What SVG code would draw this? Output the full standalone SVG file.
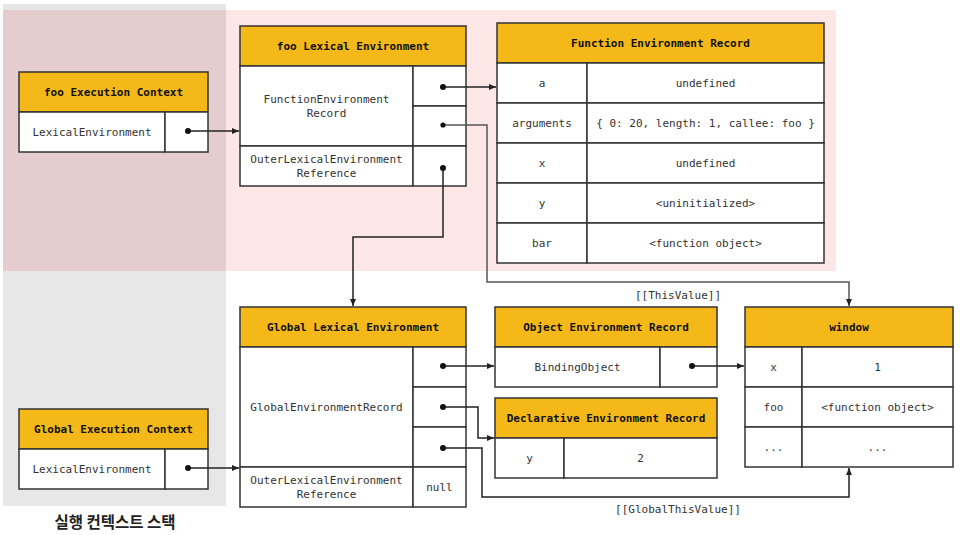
<svg xmlns="http://www.w3.org/2000/svg" width="960" height="535" viewBox="0 0 960 535">
<style>
.hd{fill:#f4b918;stroke:#333;stroke-width:1.5}
.cell{fill:#fff;stroke:#333;stroke-width:1.5}
.t{font-family:"DejaVu Sans Mono","Liberation Mono",monospace;font-size:11px;fill:#333;text-anchor:middle;dominant-baseline:central}
.b{font-weight:bold;fill:#111}
.ln{fill:none;stroke:#222;stroke-width:1.5}
.lg{fill:none;stroke:#555;stroke-width:1.5}
.dot{fill:#111}
</style>
<defs>
<marker id="ah" markerWidth="8" markerHeight="8" refX="7" refY="4" orient="auto" markerUnits="userSpaceOnUse">
<path d="M0,1 L7,4 L0,7 Z" fill="#222"/>
</marker>
</defs>
<rect width="960" height="535" fill="#fff"/>
<g id="background">
<rect x="3" y="4" width="223" height="502" fill="#e8e7e7"/>
<rect x="226" y="10" width="610" height="261" fill="#fde6e6"/>
<rect x="3" y="10" width="223" height="261" fill="#e5cdcf"/>
</g>

<g id="foo-exec-context">
<rect class="hd" x="19" y="72" width="189" height="40"/>
<rect class="cell" x="19" y="112" width="146" height="40"/>
<rect class="cell" x="165" y="112" width="43" height="40"/>
<text class="t b" x="113.5" y="92">foo Execution Context</text>
<text class="t" x="92" y="132">LexicalEnvironment</text>
</g>

<g id="global-exec-context">
<rect class="hd" x="19" y="409" width="189" height="40"/>
<rect class="cell" x="19" y="449" width="146" height="40"/>
<rect class="cell" x="165" y="449" width="43" height="40"/>
<text class="t b" x="113.5" y="429">Global Execution Context</text>
<text class="t" x="92" y="469">LexicalEnvironment</text>
</g>

<text x="115" y="521" font-family="'Noto Sans CJK KR','Noto Sans',sans-serif" font-size="15.5" font-weight="bold" fill="#222" text-anchor="middle" dominant-baseline="central">실행 컨텍스트 스택</text>

<g id="foo-lexical-env">
<rect class="hd" x="240" y="26" width="226" height="40"/>
<rect class="cell" x="240" y="66" width="173" height="80"/>
<rect class="cell" x="413" y="66" width="53" height="40"/>
<rect class="cell" x="413" y="106" width="53" height="40"/>
<rect class="cell" x="240" y="146" width="173" height="40"/>
<rect class="cell" x="413" y="146" width="53" height="40"/>
<text class="t b" x="353" y="46">foo Lexical Environment</text>
<text class="t" x="326.5" y="99">FunctionEnvironment</text>
<text class="t" x="326.5" y="113">Record</text>
<text class="t" x="326.5" y="159">OuterLexicalEnvironment</text>
<text class="t" x="326.5" y="173">Reference</text>
</g>

<g id="function-env-record">
<rect class="hd" x="497" y="23" width="327" height="40"/>
<rect class="cell" x="497" y="63" width="90" height="40"/>
<rect class="cell" x="587" y="63" width="237" height="40"/>
<rect class="cell" x="497" y="103" width="90" height="40"/>
<rect class="cell" x="587" y="103" width="237" height="40"/>
<rect class="cell" x="497" y="143" width="90" height="40"/>
<rect class="cell" x="587" y="143" width="237" height="40"/>
<rect class="cell" x="497" y="183" width="90" height="40"/>
<rect class="cell" x="587" y="183" width="237" height="40"/>
<rect class="cell" x="497" y="223" width="90" height="40"/>
<rect class="cell" x="587" y="223" width="237" height="40"/>
<text class="t b" x="660.5" y="43">Function Environment Record</text>
<text class="t" x="542" y="83">a</text>
<text class="t" x="705.5" y="83">undefined</text>
<text class="t" x="542" y="123">arguments</text>
<text class="t" x="705.5" y="123">{ 0: 20, length: 1, callee: foo }</text>
<text class="t" x="542" y="163">x</text>
<text class="t" x="705.5" y="163">undefined</text>
<text class="t" x="542" y="203">y</text>
<text class="t" x="705.5" y="203">&lt;uninitialized&gt;</text>
<text class="t" x="542" y="243">bar</text>
<text class="t" x="705.5" y="243">&lt;function object&gt;</text>
</g>

<g id="global-lexical-env">
<rect class="hd" x="240" y="307" width="226" height="40"/>
<rect class="cell" x="240" y="347" width="173" height="120"/>
<rect class="cell" x="413" y="347" width="53" height="40"/>
<rect class="cell" x="413" y="387" width="53" height="40"/>
<rect class="cell" x="413" y="427" width="53" height="40"/>
<rect class="cell" x="240" y="467" width="173" height="40"/>
<rect class="cell" x="413" y="467" width="53" height="40"/>
<text class="t b" x="353" y="327">Global Lexical Environment</text>
<text class="t" x="326.5" y="407">GlobalEnvironmentRecord</text>
<text class="t" x="326.5" y="480">OuterLexicalEnvironment</text>
<text class="t" x="326.5" y="494">Reference</text>
<text class="t" x="439.5" y="487">null</text>
</g>

<g id="object-env-record">
<rect class="hd" x="495" y="307" width="222" height="40"/>
<rect class="cell" x="495" y="347" width="165" height="40"/>
<rect class="cell" x="660" y="347" width="57" height="40"/>
<text class="t b" x="606" y="327">Object Environment Record</text>
<text class="t" x="577.5" y="367">BindingObject</text>
</g>

<g id="declarative-env-record">
<rect class="hd" x="495" y="398" width="222" height="40"/>
<rect class="cell" x="495" y="438" width="69" height="40"/>
<rect class="cell" x="564" y="438" width="153" height="40"/>
<text class="t b" x="606" y="418">Declarative Environment Record</text>
<text class="t" x="529.5" y="458">y</text>
<text class="t" x="640.5" y="458">2</text>
</g>

<g id="window">
<rect class="hd" x="745" y="307" width="208" height="40"/>
<rect class="cell" x="745" y="347" width="57" height="40"/>
<rect class="cell" x="802" y="347" width="151" height="40"/>
<rect class="cell" x="745" y="387" width="57" height="40"/>
<rect class="cell" x="802" y="387" width="151" height="40"/>
<rect class="cell" x="745" y="427" width="57" height="40"/>
<rect class="cell" x="802" y="427" width="151" height="40"/>
<text class="t b" x="849" y="327">window</text>
<text class="t" x="773.5" y="367">x</text>
<text class="t" x="877.5" y="367">1</text>
<text class="t" x="773.5" y="407">foo</text>
<text class="t" x="877.5" y="407">&lt;function object&gt;</text>
<text class="t" x="773.5" y="447">...</text>
<text class="t" x="877.5" y="447">...</text>
</g>

<g id="connectors">
<path class="ln" d="M188,131 H239" marker-end="url(#ah)"/>
<path class="ln" d="M188,468 H239" marker-end="url(#ah)"/>
<path class="ln" d="M443,87 H496" marker-end="url(#ah)"/>
<path class="lg" d="M443,125 H487 V282 H849 V306" marker-end="url(#ah)"/>
<path class="ln" d="M443,168 V237 H353 V306" marker-end="url(#ah)"/>
<path class="ln" d="M443,366 H494" marker-end="url(#ah)"/>
<path class="ln" d="M443,407 H478 V438 H494" marker-end="url(#ah)"/>
<path class="ln" d="M443,448 H482 V497 H849 V468" marker-end="url(#ah)"/>
<path class="ln" d="M692,366 H744" marker-end="url(#ah)"/>
<circle class="dot" cx="188" cy="131" r="3"/>
<circle class="dot" cx="188" cy="468" r="3"/>
<circle class="dot" cx="443" cy="87" r="3"/>
<circle class="dot" cx="443" cy="125" r="2.6" fill="#555"/>
<circle class="dot" cx="443" cy="168" r="3"/>
<circle class="dot" cx="443" cy="366" r="3"/>
<circle class="dot" cx="443" cy="407" r="3"/>
<circle class="dot" cx="443" cy="448" r="3"/>
<circle class="dot" cx="692" cy="366" r="3"/>
<text class="t" x="678" y="295">[[ThisValue]]</text>
<text class="t" x="678" y="509">[[GlobalThisValue]]</text>
</g>
</svg>
